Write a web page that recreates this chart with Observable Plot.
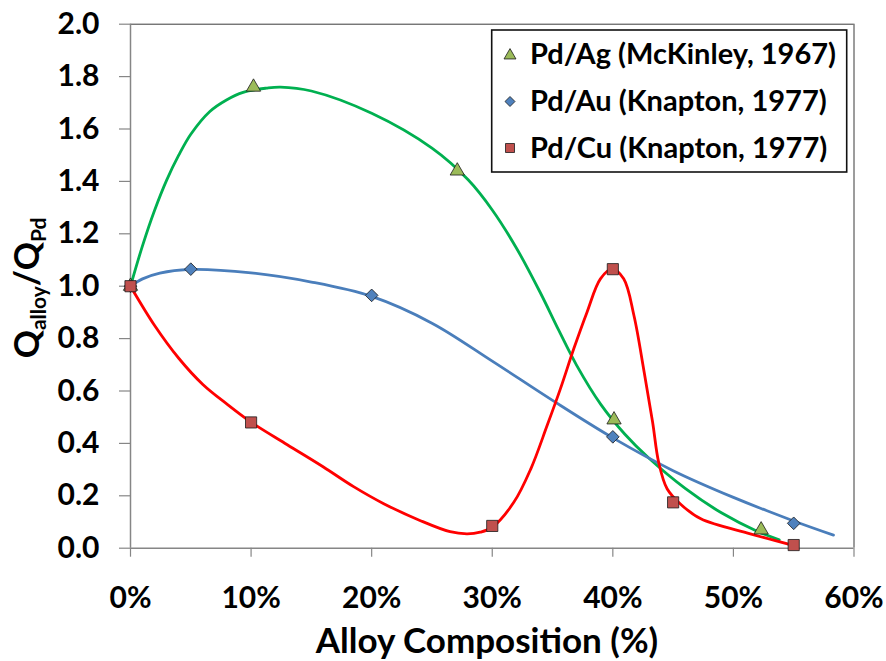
<!DOCTYPE html>
<html>
<head>
<meta charset="utf-8">
<script src="https://cdn.jsdelivr.net/npm/d3@7"></script>
<script src="https://cdn.jsdelivr.net/npm/@observablehq/plot@0.6"></script>
<style>
  html, body { margin: 0; padding: 0; background: white; }
</style>
</head>
<body>
<div id="chart"></div>
<script>
// ---- Data ----
const xTicks = [0, 10, 20, 30, 40, 50, 60];
const yTicks = [0, 0.2, 0.4, 0.6, 0.8, 1.0, 1.2, 1.4, 1.6, 1.8, 2.0];

const seriesNames = ["Pd/Ag (McKinley, 1967)", "Pd/Au (Knapton, 1977)", "Pd/Cu (Knapton, 1977)"];

// measured points
const agX = [0, 10.2, 27.1, 40.1, 52.3];
const agY = [1.0, 1.76, 1.44, 0.49, 0.07];
const auX = [0, 5, 20, 40, 55];
const auY = [1.0, 1.065, 0.965, 0.425, 0.095];
const cuX = [0, 10, 30, 40, 45, 55];
const cuY = [1.0, 0.48, 0.085, 1.065, 0.175, 0.012];

// smooth fitted curves
const agCurveX = [0, 1, 2, 3, 4, 5, 6.58, 7.96, 9.34, 11.28, 12.44, 15, 20, 25, 28, 30, 32, 34, 35.5, 37, 39, 41, 43, 46, 49, 52, 53.8];
const agCurveY = [1.0, 1.155, 1.29, 1.405, 1.5, 1.58, 1.667, 1.711, 1.74, 1.756, 1.76, 1.745, 1.66, 1.527, 1.406, 1.291, 1.146, 0.974, 0.833, 0.698, 0.549, 0.435, 0.343, 0.228, 0.135, 0.064, 0.032];
const auCurveX = [0, 1.0, 2.43, 4.92, 10, 15, 20, 25, 30, 35, 40, 45, 50, 55, 58.3];
const auCurveY = [1.0, 1.028, 1.05, 1.064, 1.051, 1.016, 0.961, 0.859, 0.714, 0.564, 0.421, 0.296, 0.194, 0.104, 0.05];
const cuCurveX = [0, 2, 4, 6, 8, 10, 13, 16, 18.5, 21, 24, 26.5, 27.9, 29.0, 30.0, 31.8, 33.2, 34.55, 35.65, 36.76, 37.86, 38.97, 39.94, 40.9, 41.75, 42.6, 43.3, 43.8, 44.5, 45.6, 47.3, 51.4, 55.0];
const cuCurveY = [1.0, 0.85, 0.725, 0.625, 0.55, 0.481, 0.395, 0.31, 0.235, 0.17, 0.106, 0.063, 0.055, 0.061, 0.08, 0.176, 0.303, 0.468, 0.608, 0.761, 0.901, 1.028, 1.066, 1.028, 0.888, 0.672, 0.481, 0.328, 0.227, 0.169, 0.112, 0.055, 0.01];

// ---- Styles ----
const FONT = "Lato, sans-serif";
const gridGray = "#868686";
const agLine = "#00B050", agFill = "#9BBB59";
const auLine = "#4A7EBB", auFill = "#4F81BD";
const cuLine = "#FF0000", cuFill = "#C0504D";

const zip = (xs, ys) => xs.map((x, i) => ({x, y: ys[i]}));

const svg = Plot.plot({
  width: 886,
  height: 661,
  marginLeft: 130,
  marginRight: 32.5,
  marginTop: 23.7,
  marginBottom: 113.3,
  x: {domain: [0, 60]},
  y: {domain: [0, 2]},
  style: {fontFamily: FONT, fontWeight: "bold", fontSize: "30px", color: "black", background: "white"},
  marks: [
    Plot.ruleY([2], {stroke: "#3a3a3a", strokeWidth: 1}),
    Plot.ruleX([60], {stroke: "#3a3a3a", strokeWidth: 1}),
    Plot.axisX({ticks: xTicks, tickFormat: d => d + "%", tickSize: 9, tickPadding: 29, stroke: gridGray, fill: "black", label: null, fontSize: 30, fontWeight: "bold", strokeWidth: 1.2}),
    Plot.axisY({ticks: yTicks, tickFormat: () => "", tickSize: 11, stroke: gridGray, label: null, strokeWidth: 1.2}),
    Plot.text(yTicks, {x: 0, y: d => d, text: d3.format(".1f"), dx: -31, textAnchor: "end", fontSize: 30, fontWeight: "bold", fill: "black"}),
    Plot.ruleX([0], {stroke: gridGray, strokeWidth: 1.5}),
    Plot.ruleY([0], {stroke: gridGray, strokeWidth: 1.5}),
    Plot.line(zip(agCurveX, agCurveY), {x: "x", y: "y", stroke: agLine, strokeWidth: 2.8, curve: "catmull-rom"}),
    Plot.line(zip(auCurveX, auCurveY), {x: "x", y: "y", stroke: auLine, strokeWidth: 2.8, curve: "catmull-rom"}),
    Plot.line(zip(cuCurveX, cuCurveY), {x: "x", y: "y", stroke: cuLine, strokeWidth: 2.8, curve: "catmull-rom"}),
    Plot.dot(zip(agX, agY), {x: "x", y: "y", symbol: "triangle", r: 5.3, fill: agFill, stroke: "#1a1a1a", strokeWidth: 0.8}),
    Plot.dot(zip(auX, auY), {x: "x", y: "y", symbol: "diamond2", r: 5.7, fill: auFill, stroke: "#1a1a1a", strokeWidth: 0.8}),
    Plot.dot(zip(cuX, cuY), {x: "x", y: "y", symbol: "square", r: 6.3, fill: cuFill, stroke: "#1a1a1a", strokeWidth: 0.8})
  ]
});

const s = d3.select(svg);

// x-axis title
s.append("text")
  .attr("x", 487).attr("y", 653)
  .attr("text-anchor", "middle")
  .style("font-family", FONT).style("font-weight", "bold").style("font-size", "35px")
  .attr("fill", "black")
  .text("Alloy Composition (%)");

// y-axis title with subscripts
const yt = s.append("text")
  .attr("transform", "translate(39,288) rotate(-90)")
  .attr("text-anchor", "middle")
  .style("font-family", FONT).style("font-weight", "bold")
  .attr("fill", "black");
yt.append("tspan").style("font-size", "35px").text("Q");
yt.append("tspan").style("font-size", "21px").attr("dy", 7).text("alloy");
yt.append("tspan").style("font-size", "35px").attr("dy", -7).text("/");
yt.append("tspan").style("font-size", "35px").text("Q");
yt.append("tspan").style("font-size", "21px").attr("dy", 7).text("Pd");

// legend
const lg = s.append("g");
lg.append("rect").attr("x", 491.7).attr("y", 30).attr("width", 355).attr("height", 142)
  .attr("fill", "white").attr("stroke", "#111").attr("stroke-width", 1.6);
const legendSymbols = [d3.symbolTriangle, d3.symbolDiamond2, d3.symbolSquare];
const legendSizes = [62, 64, 81];
const legendFills = [agFill, auFill, cuFill];
const legendCenters = [55.5, 101.5, 148];
const legendBaselines = [64, 111, 158];
seriesNames.forEach((name, i) => {
  lg.append("path")
    .attr("d", d3.symbol(legendSymbols[i], legendSizes[i])())
    .attr("transform", `translate(510,${legendCenters[i]})`)
    .attr("fill", legendFills[i]).attr("stroke", "#1a1a1a").attr("stroke-width", 0.8);
  lg.append("text")
    .attr("x", 530).attr("y", legendBaselines[i])
    .attr("text-anchor", "start")
    .style("font-family", FONT).style("font-weight", "bold").style("font-size", "29px")
    .attr("fill", "black")
    .text(name);
});

document.getElementById("chart").appendChild(svg);
</script>
</body>
</html>
